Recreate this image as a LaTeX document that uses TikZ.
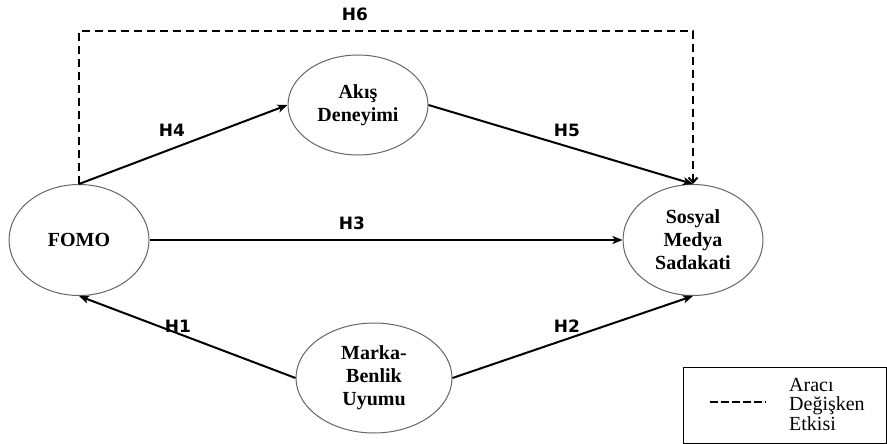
\documentclass[tikz,border=0pt]{standalone}
\usepackage{fontspec}
\setmainfont{Liberation Serif}
\newfontfamily\lblfont{DejaVu Sans}
\usetikzlibrary{shapes.geometric,arrows.meta}
\begin{document}
\begin{tikzpicture}[x=1pt,y=-1pt,
  ell/.style={ellipse, draw=black!60, line width=1pt, inner sep=0pt, align=center,
    font=\bfseries\fontsize{20}{23}\selectfont},
  arr/.style={-{Stealth[length=10pt,width=8pt,inset=2.5pt]}, line width=2pt},
  dsh/.style={-{Straight Barb[length=5pt,width=9pt]}, line width=2pt, dash pattern=on 8pt off 5pt},
  hl/.style={font=\lblfont\bfseries\fontsize{17}{19}\selectfont, inner sep=0pt}]
\useasboundingbox (0,0) rectangle (887,444);
\node[ell, minimum width=140pt, minimum height=111pt] (fomo) at (79,240) {FOMO};
\node[ell, minimum width=140pt, minimum height=111pt] (sos) at (693,240) {Sosyal\\Medya\\Sadakati};
\node[ell, minimum width=140pt, minimum height=100pt] (akis) at (358,105) {Akış\\Deneyimi};
\node[ell, minimum width=156pt, minimum height=110pt] (marka) at (374,378) {Marka-\\Benlik\\Uyumu};
\coordinate (top) at (400,31);
\draw[dsh] (fomo.north) -- (fomo.north |- top) -| (sos.north);
\draw[arr] (fomo.north) -- (akis.west);
\draw[arr] (akis.east) -- (sos.north);
\draw[arr] (fomo.east) -- (sos.west);
\draw[arr] (marka.west) -- (fomo.south);
\draw[arr] (marka.east) -- (sos.south);
\node[hl] (h6) at (355,14) {H6};
\node[hl] (h4) at (172,130) {H4};
\node[hl] (h5) at (567,130) {H5};
\node[hl] (h3) at (352,223) {H3};
\node[hl] (h1) at (178,326) {H1};
\node[hl] (h2) at (567,326) {H2};
\draw[line width=1pt] (683,367) rectangle (886,443);
\coordinate (la) at (710,402);
\coordinate (lb) at (766,402);
\draw[line width=2.2pt, dash pattern=on 8pt off 3pt] (la) -- (lb);
\node[anchor=west, align=left, inner sep=0pt, font=\fontsize{20}{19.5}\selectfont] (leg) at (789,404) {Aracı\\Değişken\\Etkisi};
\end{tikzpicture}
\end{document}
